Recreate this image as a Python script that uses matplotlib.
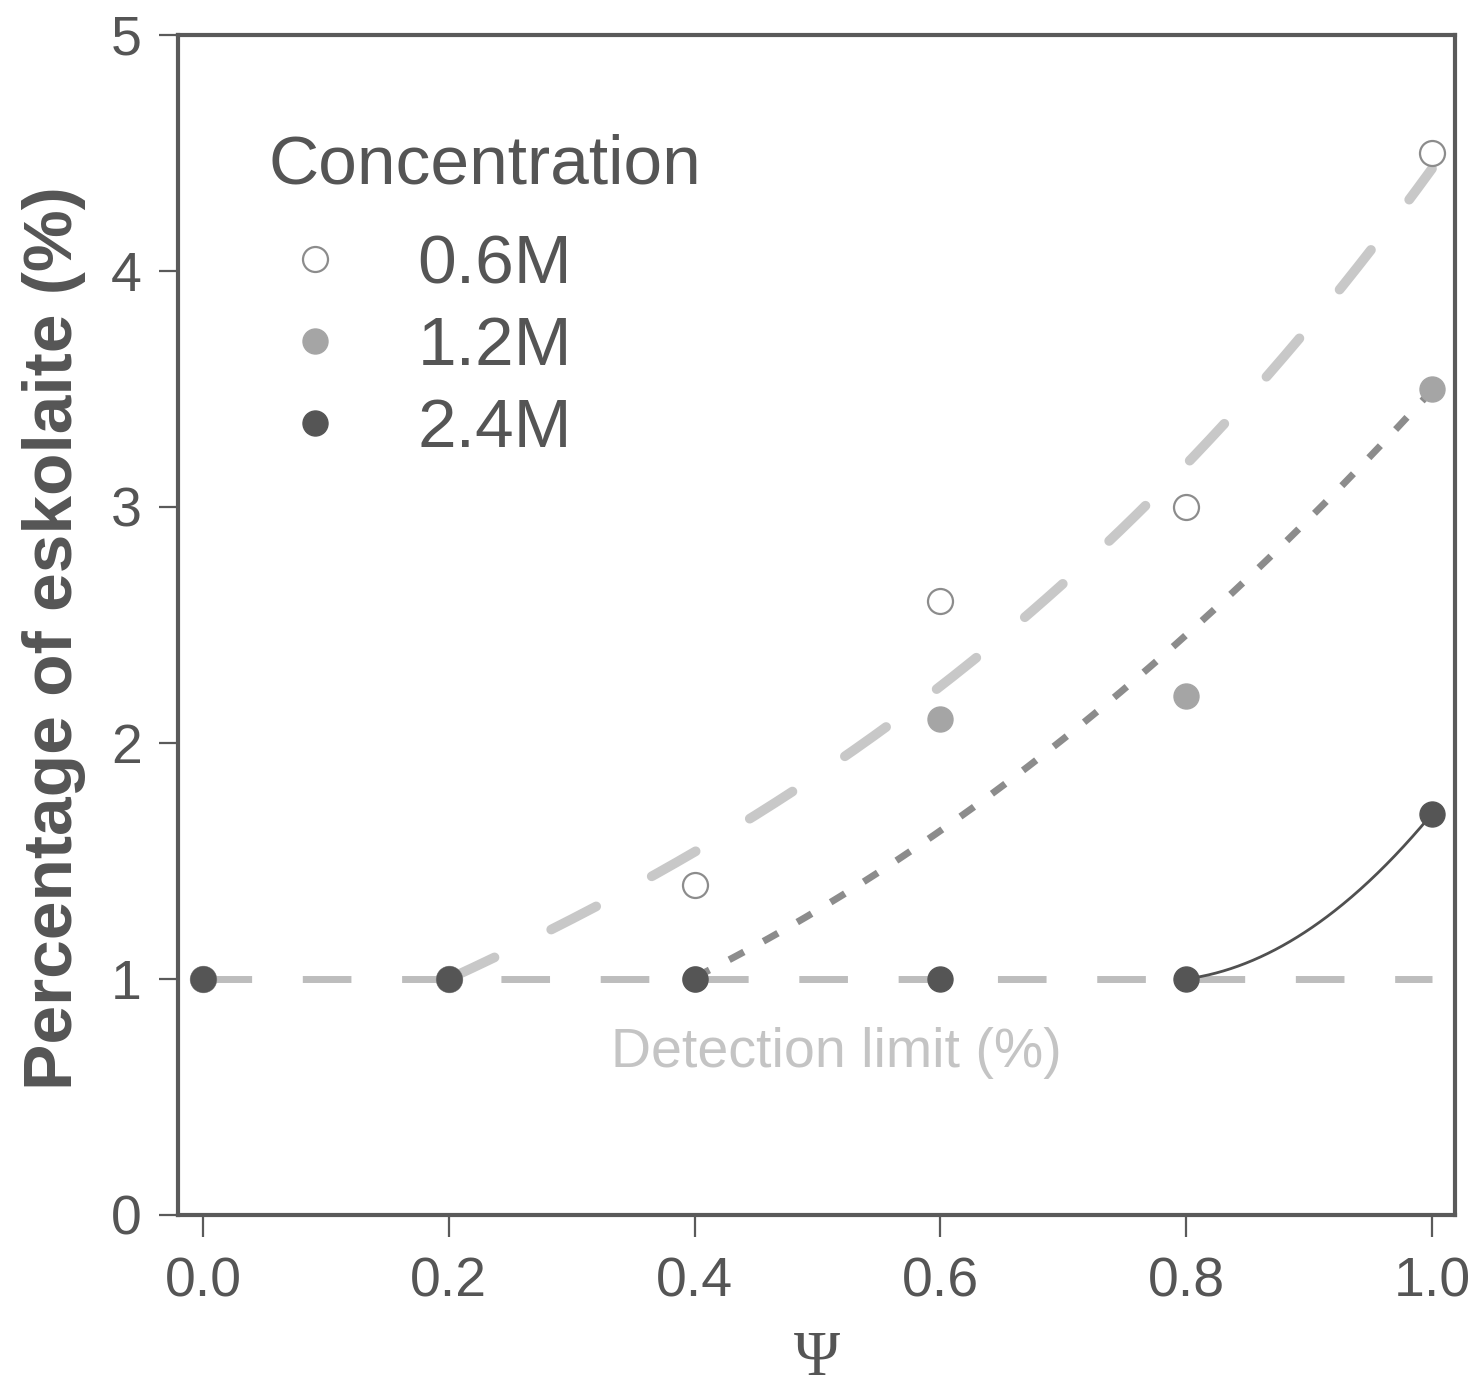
import numpy as np
import matplotlib
matplotlib.use("Agg")
from matplotlib import pyplot as plt
from matplotlib.lines import Line2D

# data
psi = [0.0, 0.2, 0.4, 0.6, 0.8, 1.0]
conc_06 = [1.0, 1.0, 1.4, 2.6, 3.0, 4.5]
conc_12 = [1.0, 1.0, 1.0, 2.1, 2.2, 3.5]
conc_24 = [1.0, 1.0, 1.0, 1.0, 1.0, 1.7]
labels = ['0.6M', '1.2M', '2.4M']
detection_limit = 1.0

# trend curves, points read along the drawn fits
fit_x_06 = [0.2, 0.43, 0.565, 0.692, 0.862, 0.964, 1.0]
fit_y_06 = [1.0, 1.63, 2.11, 2.63, 3.53, 4.2, 4.42]
fit_x_12 = [0.4, 0.557, 0.688, 0.81, 1.0]
fit_y_12 = [1.0, 1.49, 1.97, 2.49, 3.5]
fit_x_24 = [0.8, 0.9, 1.0]
fit_y_24 = [1.0, 1.21, 1.7]

TXT = '#555555'
plt.rcParams['font.family'] = ['Liberation Sans', 'DejaVu Sans']

fig = plt.figure(figsize=(14.77, 13.93), dpi=100)
ax = fig.add_axes([0.1205, 0.1278, 0.8646, 0.8471])

def trend(xs, ys, deg):
	c = np.polyfit(xs, ys, deg)
	xx = np.linspace(xs[0], xs[-1], 200)
	return xx, np.polyval(c, xx)

# detection limit
ax.plot([psi[0], psi[-1]], [detection_limit]*2, color='#bdbdbd', lw=5,
		dashes=(7, 7.3), dash_capstyle='butt', zorder=1)
ax.text(0.515, 0.685, 'Detection limit (%)', color='#c4c4c4', fontsize=40,
		ha='center', va='center')

xx, yy = trend(fit_x_06, fit_y_06, 3)
ax.plot(xx, yy, color='#c8c8c8', lw=7, dashes=(5.2, 6.5), dash_capstyle='round', zorder=2)
xx, yy = trend(fit_x_12, fit_y_12, 2)
ax.plot(xx, yy, color='#8c8c8c', lw=5, dashes=(2.4, 3.2), dash_capstyle='butt', zorder=2)
xx, yy = trend(fit_x_24, fit_y_24, 2)
ax.plot(xx, yy, color='#505050', lw=2, zorder=2)

ms = 18
ax.plot(psi, conc_06, 'o', ms=ms, mfc='white', mec='#8c8c8c', mew=1.6, zorder=3)
ax.plot(psi, conc_12, 'o', ms=ms, mfc='#a5a5a5', mec='#a5a5a5', zorder=4)
ax.plot(psi, conc_24, 'o', ms=ms, mfc='#555555', mec='#555555', zorder=5)

ax.set_xlim(-0.0203, 1.0187)
ax.set_ylim(0, 5)
ax.set_xticks(psi)
ax.set_xticklabels(['%.1f' % v for v in psi])
ax.set_yticks([0, 1, 2, 3, 4, 5])

for s in ax.spines.values():
	s.set_color('#5a5a5a')
	s.set_linewidth(3)
ax.tick_params(axis='both', colors='#5a5a5a', labelcolor=TXT, labelsize=40, width=1.6)
ax.tick_params(axis='x', length=16, pad=14)
ax.tick_params(axis='y', length=14, pad=12)

ax.set_ylabel('Percentage of eskolaite (%)', fontsize=50, fontweight='bold', color=TXT, labelpad=18)
ax.yaxis.label.set_y(0.489)
ax.set_xlabel('\u03a8', fontsize=45, color=TXT, family=['Liberation Serif', 'DejaVu Serif'], labelpad=16)

# legend title as its own text, legend rows below it
ax.text(0.0705, 0.8898, 'Concentration', transform=ax.transAxes, fontsize=50,
		color=TXT, ha='left', va='center')
handles = [
	Line2D([], [], ls='none', marker='o', ms=ms, mfc='white', mec='#8c8c8c', mew=1.6),
	Line2D([], [], ls='none', marker='o', ms=ms, mfc='#a5a5a5', mec='#a5a5a5'),
	Line2D([], [], ls='none', marker='o', ms=ms, mfc='#555555', mec='#555555'),
]
leg = ax.legend(handles, labels, loc='upper left', bbox_to_anchor=(0.0799, 0.832),
		frameon=False, fontsize=50, handlelength=1.0, handletextpad=0.98,
		labelspacing=0.26, borderpad=0, borderaxespad=0)
for t in leg.get_texts():
	t.set_color(TXT)

fig.savefig('out.png', dpi=100, facecolor='white')
